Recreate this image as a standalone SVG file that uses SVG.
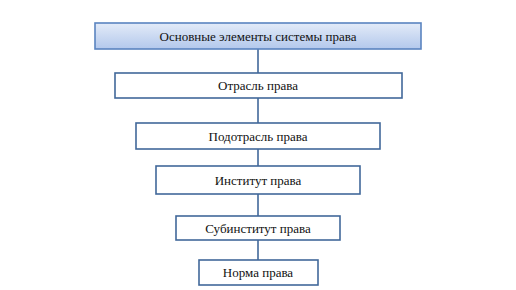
<svg xmlns="http://www.w3.org/2000/svg" width="516" height="290" viewBox="0 0 516 290">
<defs>
<linearGradient id="g" x1="0" y1="0" x2="0" y2="1">
<stop offset="0" stop-color="#e3ebf8"/>
<stop offset="1" stop-color="#b3c8ec"/>
</linearGradient>
<style>
.b{fill:#fff;stroke:#41689a;stroke-width:1.6}
.t{stroke:#5a84c0;stroke-width:1.6}
text{font-family:"Liberation Serif","Times New Roman",serif;font-size:13px;fill:#111;text-anchor:middle}
.c line{stroke:#41689a;stroke-width:1.6}
</style>
</defs>
<rect width="516" height="290" fill="#fff"/>
<g class="c">
<line x1="258" y1="49" x2="258" y2="73"/>
<line x1="258" y1="98" x2="258" y2="123"/>
<line x1="258" y1="149" x2="258" y2="166"/>
<line x1="258" y1="194" x2="258" y2="216"/>
<line x1="258" y1="240" x2="258" y2="260"/>
</g>
<g id="n0"><rect class="t" x="95" y="23" width="326" height="26" fill="url(#g)"/><text x="258" y="40.5">Основные элементы системы права</text></g>
<g id="n1"><rect class="b" x="115" y="73" width="287" height="25"/><text x="258" y="90">Отрасль права</text></g>
<g id="n2"><rect class="b" x="136" y="123" width="244" height="26"/><text x="258" y="140.5">Подотрасль права</text></g>
<g id="n3"><rect class="b" x="156" y="166" width="204" height="28"/><text x="258" y="184.5">Институт права</text></g>
<g id="n4"><rect class="b" x="176" y="216" width="164" height="24"/><text x="258" y="232.5">Субинститут права</text></g>
<g id="n5"><rect class="b" x="199" y="260" width="119" height="25"/><text x="258" y="277">Норма права</text></g>
</svg>
